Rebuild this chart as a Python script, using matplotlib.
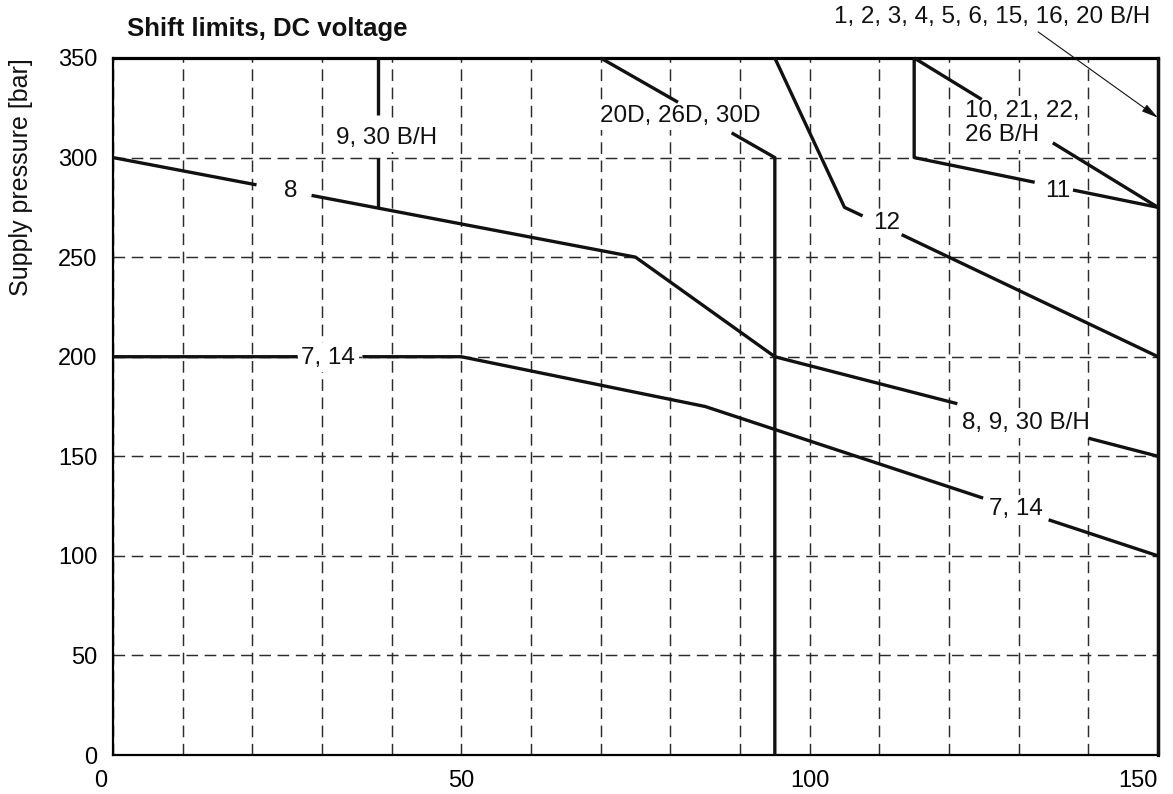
import numpy as np
import matplotlib
matplotlib.use("Agg")
import matplotlib.pyplot as plt
from matplotlib.transforms import ScaledTranslation

plt.rcParams['font.family'] = ['Liberation Sans', 'DejaVu Sans']

nan = np.nan

# curves (gaps at the labels are NaN breaks)
curve_8_x = [0, 20.6, nan, 28.5, 75, 95, 121.2, nan, 140, 150]
curve_8_y = [300, 286.3, nan, 281.0, 250, 200, 176.4, nan, 159.1, 150]

curve_7_x = [0, 26.5, nan, 35.8, 50, 85, 124.9, nan, 134.3, 150]
curve_7_y = [200, 200, nan, 200, 200, 175, 129.0, nan, 118.1, 100]

curve_12_x = [95, 105, 107.6, nan, 113.2, 150]
curve_12_y = [350, 275, 270.7, nan, 261.3, 200]

curve_20d_x = [70, 81.1, nan, 88.8, 95, 95]
curve_20d_y = [350, 327.8, nan, 312.4, 300, 0]

curve_9bh_x = [38, 38, nan, 38, 38]
curve_9bh_y = [350, 321.4, nan, 299.7, 274.7]

curve_11_x = [115, 115, 132.3, nan, 137.8, 150]
curve_11_y = [350, 300, 287.6, nan, 283.7, 275]

curve_10_x = [115, 124.7, nan, 134.9, 150]
curve_10_y = [350, 329.2, nan, 307.4, 275]

curve_1_x = [150, 150]
curve_1_y = [0, 350]

curves = [
    (curve_8_x, curve_8_y),
    (curve_7_x, curve_7_y),
    (curve_12_x, curve_12_y),
    (curve_20d_x, curve_20d_y),
    (curve_9bh_x, curve_9bh_y),
    (curve_11_x, curve_11_y),
    (curve_10_x, curve_10_y),
    (curve_1_x, curve_1_y),
]

# label text, position (data), alignment
labels = [
    ('9, 30 B/H', 39.2, 310.0, 'center'),
    ('8', 25.5, 283.0, 'center'),
    ('7, 14', 30.9, 199.5, 'center'),
    ('20D, 26D, 30D', 81.4, 321.0, 'center'),
    ('12', 111.0, 267.0, 'center'),
    ('11', 135.6, 283.0, 'center'),
    ('10, 21, 22,\n26 B/H', 122.3, 317.4, 'left'),
    ('8, 9, 30 B/H', 131.0, 166.7, 'center'),
    ('7, 14', 129.6, 123.4, 'center'),
]

x_ticks = [0, 50, 100, 150]
y_ticks = [0, 50, 100, 150, 200, 250, 300, 350]

fig = plt.figure(figsize=(11.73, 7.94), dpi=100)
ax = fig.add_axes([113 / 1173, 39 / 794, 1045 / 1173, 697 / 794])

ax.set_xlim(0, 150)
ax.set_ylim(0, 350)

# grid: dashed, every 10 in x, every 50 in y
ax.set_xticks(x_ticks)
ax.set_xticks(np.arange(10, 150, 10), minor=True)
ax.set_yticks(y_ticks)
dash = (0, (8, 4.5))
ax.grid(which='both', axis='x', color='#2b2b2b', linestyle=dash, linewidth=1.05)
ax.grid(which='major', axis='y', color='#2b2b2b', linestyle=dash, linewidth=1.05)
ax.set_axisbelow(True)

ax.tick_params(which='both', length=0)
ax.tick_params(axis='x', pad=11, labelsize=17)
ax.tick_params(axis='y', pad=11, labelsize=17)
xl = ax.get_xticklabels()
xl[0].set_ha('right')
xl[0].set_transform(xl[0].get_transform() + ScaledTranslation(-4 / 72, 0, fig.dpi_scale_trans))
xl[-1].set_ha('right')

for side in ['left', 'bottom']:
    ax.spines[side].set_linewidth(1.6)
ax.spines['top'].set_linewidth(2.3)
ax.spines['right'].set_linewidth(2.3)

for cx, cy in curves:
    ax.plot(cx, cy, color='#111111', linewidth=2.4, solid_capstyle='butt',
            zorder=3, clip_on=False)

for txt, lx, ly, ha in labels:
    ax.text(lx, ly, txt, ha=ha, va='center', fontsize=17.5, color='#111111',
            linespacing=1.15, zorder=2,
            bbox=dict(boxstyle='square,pad=0.15', facecolor='white', edgecolor='none'))

# arrow label at top right
ax.text(148.9, 370.8, '1, 2, 3, 4, 5, 6, 15, 16, 20 B/H', ha='right', va='center',
        fontsize=17.5, color='#111111', clip_on=False)
ax.annotate('', xy=(150, 320), xytext=(132.8, 363.1),
            arrowprops=dict(arrowstyle='-|>,head_length=1.0,head_width=0.25',
                            color='#111111', lw=0.8, shrinkA=0, shrinkB=0),
            annotation_clip=False)

ax.text(0.013, 1.041, 'Shift limits, DC voltage', transform=ax.transAxes,
        ha='left', va='center', fontsize=18.5, fontweight='bold', color='#111111')

ax.text(-0.088, 1.0, 'Supply pressure [bar]', transform=ax.transAxes,
        rotation=90, ha='center', va='top', fontsize=18, color='#111111')

fig.savefig('out.png', dpi=100)
